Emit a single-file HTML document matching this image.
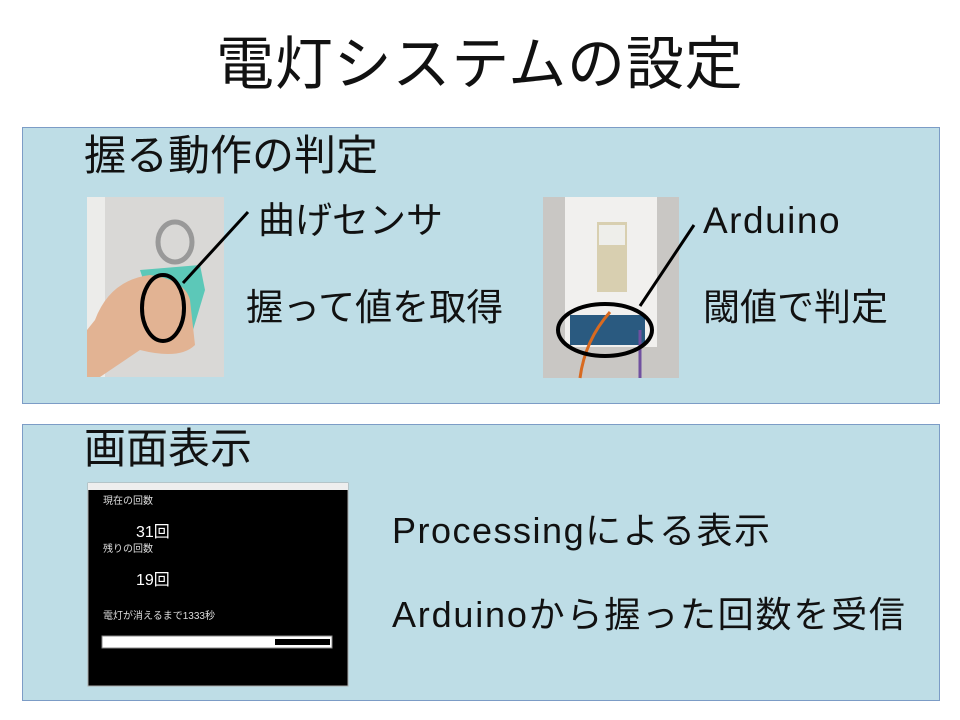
<!DOCTYPE html>
<html><head><meta charset="utf-8"><style>
*{margin:0;padding:0;box-sizing:border-box}
body{width:960px;height:720px;background:#fff;position:relative;overflow:hidden;font-family:"Liberation Sans","Noto Sans CJK JP",sans-serif;color:#111}
.t{position:absolute;white-space:nowrap;line-height:1}
.panel{position:absolute;left:22px;width:918px;height:277px;background:#bedde6;border:1px solid #7c9cc6}
</style></head><body>
<div class="t" style="left:216px;top:36px;font-size:58px;letter-spacing:0.8px">電灯システムの設定</div>
<div class="panel" style="top:127px"></div>
<div class="panel" style="top:424px"></div>
<div class="t" style="left:84px;top:135px;font-size:42px;">握る動作の判定</div>
<div class="t" style="left:84px;top:428px;font-size:42px;">画面表示</div>
<div class="t" style="left:258px;top:202px;font-size:37px;">曲げセンサ</div>
<div class="t" style="left:246px;top:289px;font-size:37px;">握って値を取得</div>
<div class="t" style="left:703px;top:202px;font-size:37px;letter-spacing:1.5px">Arduino</div>
<div class="t" style="left:703px;top:289px;font-size:37px;">閾値で判定</div>
<div class="t" style="left:392px;top:513px;font-size:36px;letter-spacing:1.5px">Processingによる表示</div>
<div class="t" style="left:392px;top:597px;font-size:36px;letter-spacing:1.8px">Arduinoから握った回数を受信</div>

<svg style="position:absolute;left:0;top:0" width="960" height="720">
 <rect x="87" y="197" width="137" height="180" fill="#d9d8d6"/>
 <rect x="87" y="197" width="18" height="180" fill="#ececea"/>
 <ellipse cx="175" cy="242" rx="17" ry="20" fill="none" stroke="#999" stroke-width="5"/>
 <path d="M140 270 L200 265 L205 290 L190 340 L170 345 L150 300 Z" fill="#5cc8b8"/>
 <path d="M95 320 Q110 280 150 275 Q185 280 190 300 L195 345 Q180 360 140 350 L100 377 L87 377 L87 330 Z" fill="#e2b393"/>
 <ellipse cx="163" cy="308" rx="21" ry="33" fill="none" stroke="#000" stroke-width="4"/>
 <line x1="183" y1="283" x2="248" y2="212" stroke="#000" stroke-width="3"/>
 <rect x="543" y="197" width="136" height="181" fill="#c9c7c4"/>
 <rect x="565" y="197" width="92" height="150" fill="#f1f0ee"/>
 <rect x="597" y="222" width="30" height="70" fill="#d8cfb0"/>
 <rect x="599" y="225" width="26" height="20" fill="#eeeeea"/>
 <rect x="570" y="315" width="75" height="30" fill="#2a5a80"/>
 <path d="M580 378 Q585 340 610 312" fill="none" stroke="#d86a20" stroke-width="3"/>
 <line x1="640" y1="330" x2="640" y2="378" stroke="#7050a0" stroke-width="3"/>
 <ellipse cx="605" cy="330" rx="47" ry="26" fill="none" stroke="#000" stroke-width="4"/>
 <line x1="640" y1="306" x2="694" y2="225" stroke="#000" stroke-width="3"/>
 <rect x="88" y="483" width="260" height="203" fill="#000" stroke="#aaa" stroke-width="1"/>
 <rect x="88" y="483" width="260" height="7" fill="#eeeeee"/>
 <rect x="102" y="636" width="230" height="12" fill="#fff" stroke="#888" stroke-width="1"/>
 <rect x="275" y="639" width="55" height="6" fill="#000"/>
</svg>
<div class="t" style="left:103px;top:497px;font-size:10px;color:#ddd">現在の回数</div>
<div class="t" style="left:136px;top:525px;font-size:16px;color:#fff">31回</div>
<div class="t" style="left:103px;top:545px;font-size:10px;color:#ddd">残りの回数</div>
<div class="t" style="left:136px;top:573px;font-size:16px;color:#fff">19回</div>
<div class="t" style="left:103px;top:612px;font-size:10px;color:#ddd">電灯が消えるまで1333秒</div>
</body></html>
